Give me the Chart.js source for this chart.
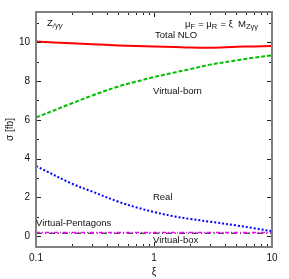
<!DOCTYPE html>
<html><head><meta charset="utf-8">
<script src="https://cdn.jsdelivr.net/npm/chart.js@4"></script>
<style>html,body{margin:0;padding:0;background:#fff}#c{display:block}</style>
</head><body>
<canvas id="c" width="289" height="279"></canvas>
<script>
// ---- data ----
const xi = [0.1, 0.2, 0.3, 0.5, 0.7, 1, 1.5, 2, 3, 5, 7, 10];
const totalNLO = [10.03, 9.94, 9.89, 9.83, 9.80, 9.78, 9.75, 9.72, 9.71, 9.76, 9.78, 9.80];
const virtualBorn = [6.12, 6.84, 7.25, 7.72, 7.96, 8.20, 8.44, 8.60, 8.84, 9.06, 9.20, 9.32];
const real = [3.62, 2.72, 2.30, 1.78, 1.50, 1.25, 1.02, 0.90, 0.75, 0.56, 0.42, 0.26];
const virtualPentagons = [0.20, 0.20, 0.20, 0.20, 0.20, 0.20, 0.20, 0.20, 0.20, 0.20, 0.20, 0.20];
const virtualBox = [0.16, 0.16, 0.16, 0.16, 0.16, 0.16, 0.16, 0.16, 0.16, 0.16, 0.16, 0.16];
const xTickLabels = [0.1, 1, 10];
const yTickLabels = [0, 2, 4, 6, 8, 10];

const FONT = '"Liberation Sans", Arial, Helvetica, sans-serif';
const pts = arr => xi.map((x, i) => ({x, y: arr[i]}));

// in-plot labels, anchored in data coordinates
const labels = [
  {parts: [{t: 'Total NLO'}], x: 1.02, y: 10.36},
  {parts: [{t: 'Virtual-born'}], x: 0.98, y: 7.45},
  {parts: [{t: 'Real'}], x: 0.98, y: 2.0},
  {parts: [{t: 'Virtual-box'}], x: 0.98, y: -0.2},
  {parts: [{t: 'Virtual-Pentagons'}], x: 0.1, y: 0.66},
  {parts: [{t: 'Z'}, {t: '/γγ', sub: true, italic: true}], x: 0.124, y: 10.97},
  {parts: [{t: 'μ'}, {t: 'F', sub: true}, {t: ' = μ'}, {t: 'R', sub: true}, {t: ' = ξ  M'}, {t: 'Zγγ', sub: true}], x: 1.83, y: 10.92}
];

function isClose(v, list) { return list.some(l => Math.abs(v - l) < 1e-9 * Math.max(1, Math.abs(l))); }

const framePlugin = {
  id: 'frame',
  afterDraw(chart) {
    const {ctx, chartArea: a, scales: {x, y}} = chart;
    ctx.save();
    // inward ticks on all four sides
    ctx.strokeStyle = '#222';
    ctx.lineWidth = 1;
    ctx.beginPath();
    for (let d = -1; d <= 1; d++) {
      for (let m = 1; m <= 9; m++) {
        const v = m * Math.pow(10, d);
        if (v < x.min - 1e-12 || v > x.max + 1e-12) continue;
        const px = Math.round(x.getPixelForValue(v)) + 0.5;
        const len = m === 1 ? 5 : 3;
        ctx.moveTo(px, a.bottom); ctx.lineTo(px, a.bottom - len);
        ctx.moveTo(px, a.top); ctx.lineTo(px, a.top + len);
      }
    }
    const px10 = Math.round(x.getPixelForValue(10)) + 0.5;
    for (let v = Math.ceil(y.min); v <= Math.floor(y.max); v++) {
      const py = Math.round(y.getPixelForValue(v)) + 0.5;
      const len = v % 2 === 0 ? 5 : 3;
      ctx.moveTo(a.left, py); ctx.lineTo(a.left + len, py);
      ctx.moveTo(a.right, py); ctx.lineTo(a.right - len, py);
    }
    ctx.stroke();
    // frame
    ctx.strokeStyle = '#7f7f7f';
    ctx.lineWidth = 2;
    ctx.strokeRect(a.left, a.top, a.right - a.left, a.bottom - a.top);
    // labels
    ctx.fillStyle = '#111';
    ctx.textBaseline = 'middle';
    ctx.textAlign = 'left';
    for (const L of labels) {
      let cx = x.getPixelForValue(L.x);
      const cy = y.getPixelForValue(L.y);
      for (const p of L.parts) {
        const size = p.sub ? 7.5 : 9.5;
        ctx.font = (p.italic ? 'italic ' : '') + size + 'px ' + FONT;
        ctx.fillText(p.t, cx, cy + (p.sub ? 2.5 : 0));
        cx += ctx.measureText(p.t).width + (p.sub ? 0.5 : 0);
      }
    }
    ctx.restore();
  }
};

new Chart(document.getElementById('c'), {
  type: 'line',
  data: {
    datasets: [
      {label: 'Total NLO', data: pts(totalNLO), borderColor: '#ff0000', borderWidth: 2, pointRadius: 0, tension: 0.35, fill: false},
      {label: 'Virtual-born', data: pts(virtualBorn), borderColor: '#00c000', borderWidth: 2, borderDash: [4, 2], pointRadius: 0, tension: 0.35, fill: false},
      {label: 'Real', data: pts(real), borderColor: '#0000ff', borderWidth: 2, borderDash: [2, 2], pointRadius: 0, tension: 0.35, fill: false},
      {label: 'Virtual-Pentagons', data: pts(virtualPentagons), borderColor: '#ff00ff', borderWidth: 1.5, borderDash: [4, 2, 1, 2], pointRadius: 0, fill: false},
      {label: 'Virtual-box', data: pts(virtualBox), borderColor: '#000000', borderWidth: 1, borderDash: [6, 3, 1, 3], pointRadius: 0, fill: false}
    ]
  },
  options: {
    responsive: false,
    animation: false,
    devicePixelRatio: 1,
    layout: {padding: {top: 10, right: 17, left: 0, bottom: 0}},
    plugins: {legend: {display: false}, tooltip: {enabled: false}},
    scales: {
      x: {
        type: 'logarithmic', min: 0.1, max: 10,
        grid: {display: false, drawTicks: false},
        border: {display: false},
        ticks: {
          autoSkip: false, maxRotation: 0, padding: 5, color: '#111',
          font: {family: FONT, size: 10},
          callback: v => isClose(v, xTickLabels) ? String(v) : ''
        },
        title: {display: true, text: 'ξ', color: '#111', font: {family: FONT, size: 10}, padding: {top: 0, bottom: 1}},
        afterFit: s => { s.height = 32; }
      },
      y: {
        type: 'linear', min: -0.55, max: 11.55,
        grid: {display: false, drawTicks: false},
        border: {display: false},
        ticks: {
          stepSize: 1, includeBounds: false, padding: 6, color: '#111',
          font: {family: FONT, size: 10},
          callback: v => isClose(v, yTickLabels) ? String(v) : ''
        },
        title: {display: true, text: 'σ [fb]', color: '#111', font: {family: FONT, size: 10}, padding: {top: 4, bottom: 0}},
        afterFit: s => { s.width = 36; }
      }
    }
  },
  plugins: [framePlugin]
});
</script>
</body></html>
